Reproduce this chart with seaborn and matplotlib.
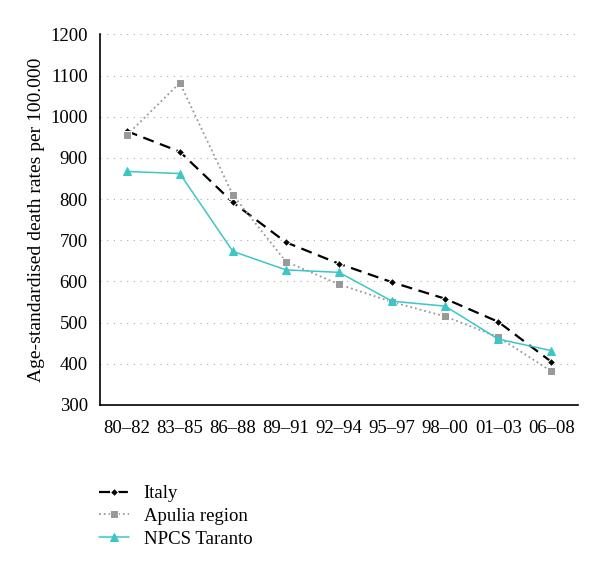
import matplotlib
matplotlib.use("Agg")
import matplotlib.pyplot as plt
import seaborn as sns
import numpy as np
import pandas as pd

periods = ["80–82", "83–85", "86–88", "89–91", "92–94", "95–97", "98–00", "01–03", "06–08"]
italy = [965, 915, 792, 695, 643, 598, 558, 502, 405]
apulia = [955, 1082, 810, 648, 593, 550, 515, 465, 382]
taranto = [867, 862, 673, 628, 622, 552, 540, 460, 432]

sns.set_style("white")
plt.rcParams["font.family"] = ["Liberation Serif", "DejaVu Serif"]
plt.rcParams["text.color"] = "black"
plt.rcParams["xtick.color"] = "black"
plt.rcParams["ytick.color"] = "black"
plt.rcParams["axes.labelcolor"] = "black"

fig = plt.figure(figsize=(6, 5.72), dpi=100)
ax = fig.add_axes([0.167, 0.292, 0.796, 0.648])

pos = np.arange(len(periods))
df = pd.DataFrame({"x": pos, "italy": italy, "apulia": apulia, "taranto": taranto})

sns.lineplot(data=df, x="x", y="italy", ax=ax, color="black", marker="D",
             markersize=4.5, linewidth=1.6, label="Italy")
ax.lines[-1].set_dashes((5, 3))
sns.lineplot(data=df, x="x", y="apulia", ax=ax, color="#999999", marker="s",
             markersize=5.5, linewidth=1.3, linestyle=":", label="Apulia region")
sns.lineplot(data=df, x="x", y="taranto", ax=ax, color="#3cc6c6", marker="^",
             markersize=5.5, linewidth=1.1, label="NPCS Taranto", markeredgecolor="#3cc6c6")

ax.set_xlim(-0.5, len(periods) - 0.5)
ax.set_ylim(300, 1200)
ax.set_yticks(range(300, 1201, 100))
ax.set_xticks(pos)
ax.set_xticklabels(periods)
ax.set_xticks(np.arange(-0.5, len(periods), 1), minor=True)
ax.tick_params(axis="x", which="major", length=0, pad=11, labelsize=13.5)
ax.tick_params(axis="x", which="minor", length=4, width=1, direction="out", color="black")
ax.tick_params(axis="y", length=3, width=1, direction="out", color="black", labelsize=13.5, pad=6)
ax.yaxis.grid(True, linestyle=(0, (1, 5)), color="#aaaaaa", linewidth=0.8)
ax.set_axisbelow(True)

for s in ["top", "right"]:
    ax.spines[s].set_visible(False)
for s in ["left", "bottom"]:
    ax.spines[s].set_color("black")
    ax.spines[s].set_linewidth(1.2)

ax.set_xlabel("")
ax.set_ylabel("Age-standardised death rates per 100.000", fontsize=14, labelpad=4)

ax.legend(loc="upper left", bbox_to_anchor=(0.152, 0.165), bbox_transform=fig.transFigure,
          frameon=False, fontsize=13.5, handlelength=1.6, handletextpad=0.8,
          labelspacing=0.3, borderaxespad=0)

fig.savefig("out.png", dpi=100)
